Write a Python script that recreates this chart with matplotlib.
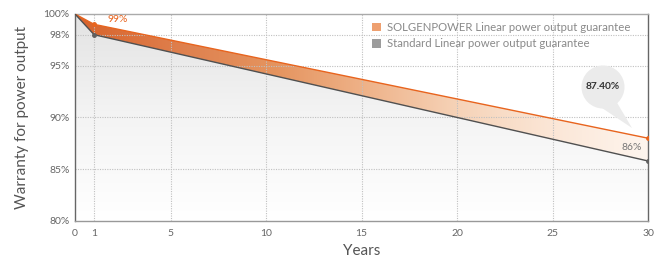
import numpy as np
import matplotlib
matplotlib.use("Agg")
import matplotlib.pyplot as plt
from matplotlib.patches import Polygon, Patch, Ellipse
from matplotlib.colors import LinearSegmentedColormap

plt.rcParams['font.family'] = ['Lato', 'DejaVu Sans']

years = [0, 1, 30]
solgen = [100, 99, 88.0]
standard = [100, 98, 85.8]
xticks = [0, 1, 5, 10, 15, 20, 25, 30]
yticks = [80, 85, 90, 95, 98, 100]
ytick_labels = ['80%', '85%', '90%', '95%', '98%', '100%']
legend_labels = ['SOLGENPOWER Linear power output guarantee', 'Standard Linear power output guarantee']
label_99 = '99%'
label_86 = '86%'
bubble_text = '87.40%'

W, H = 661, 258
fig = plt.figure(figsize=(W/100, H/100), dpi=100)
L, R, T, B = 75, 648, 14, 221
ax = fig.add_axes([L/W, 1-B/H, (R-L)/W, (B-T)/H])
xmin, xmax, ymin, ymax = 0, 30, 80, 100
ax.set_xlim(xmin, xmax)
ax.set_ylim(ymin, ymax)

def px2data(px, py):
    return (xmin + (px - L) / (R - L) * (xmax - xmin),
            ymax - (py - T) / (B - T) * (ymax - ymin))

# gray gradient below standard line
gray_cmap = LinearSegmentedColormap.from_list('g', ['#ffffff', '#f4f4f4', '#e3e3e3'])
grad_v = np.linspace(0, 1, 256).reshape(-1, 1)
im = ax.imshow(grad_v, extent=[xmin, xmax, ymin, ymax], origin='lower', cmap=gray_cmap,
               aspect='auto', zorder=1)
poly_g = Polygon(list(zip(years, standard)) + [(xmax, ymin), (xmin, ymin)], closed=True,
                 transform=ax.transData, facecolor='none', edgecolor='none')
ax.add_patch(poly_g)
im.set_clip_path(poly_g)

# orange gradient between lines
or_cmap = LinearSegmentedColormap.from_list('o', [(0, '#d8622a'), (0.2, '#df8250'), (0.35, '#e5945f'),
                                                  (0.5, '#eeb187'), (0.67, '#f6d3b8'),
                                                  (0.83, '#fbe6d6'), (1, '#fef5ee')])
grad_h = np.linspace(0, 1, 256).reshape(1, -1)
im2 = ax.imshow(grad_h, extent=[xmin, xmax, ymin, ymax], origin='lower', cmap=or_cmap,
                aspect='auto', zorder=1.5)
poly_o = Polygon(list(zip(years, solgen)) + list(zip(years[::-1], standard[::-1])), closed=True,
                 transform=ax.transData, facecolor='none', edgecolor='none')
ax.add_patch(poly_o)
im2.set_clip_path(poly_o)

# grid
for x in xticks[1:-1]:
    ax.axvline(x, color='#c0c0c0', lw=0.8, ls=(0, (1, 1.2)), zorder=2)
for y in yticks[1:-1]:
    ax.axhline(y, color='#c0c0c0', lw=0.8, ls=(0, (1, 1.2)), zorder=2)

ax.plot(years, solgen, color='#e8641e', lw=1.0, zorder=3)
ax.plot(years, standard, color='#505050', lw=1.0, zorder=3)
ax.plot(years[1:], solgen[1:], 'o', color='#e8641e', ms=2.5, zorder=4)
ax.plot(years[1:], standard[1:], 'o', color='#606060', ms=2.5, zorder=4)

ax.set_xticks(xticks)
ax.set_yticks(yticks)
ax.set_yticklabels(ytick_labels)
ax.tick_params(length=0, labelsize=7.5, colors='#666666', pad=4)
ax.tick_params(axis='x', pad=6)
for s, c in [('left', '#666666'), ('bottom', '#999999'), ('right', '#666666'), ('top', '#aaaaaa')]:
    ax.spines[s].set_color(c)
    ax.spines[s].set_linewidth(1.0)

ax.set_ylabel('Warranty for power output', fontsize=11, color='#555555', labelpad=10)
ax.set_xlabel('Years', fontsize=11, color='#555555', labelpad=4)

x99, y99 = px2data(107, 20)
ax.text(x99, y99, label_99, color='#e8641e', fontsize=7.5, va='center', ha='left', zorder=5)
x86, y86 = px2data(642, 148)
ax.text(x86, y86, label_86, color='#777777', fontsize=7.5, va='center', ha='right', zorder=5)

# speech bubble
cx, cy = px2data(603, 87)
rx = 21.5 / (R - L) * (xmax - xmin)
ry = 21.5 / (B - T) * (ymax - ymin)
ax.add_patch(Ellipse((cx, cy), 2*rx, 2*ry, facecolor='#ebebeb', edgecolor='none', zorder=6))
tail = [px2data(599, 106), px2data(616, 101), px2data(632, 128)]
ax.add_patch(Polygon(tail, closed=True, facecolor='#ebebeb', edgecolor='none', zorder=6))
ax.text(cx, cy, bubble_text, fontsize=7.3, fontweight='bold', color='#333333',
        ha='center', va='center', zorder=7)

handles = [Patch(facecolor='#eea070', edgecolor='none'), Patch(facecolor='#9c9c9c', edgecolor='none')]
leg = ax.legend(handles, legend_labels, loc='upper left', bbox_to_anchor=((372 - L)/(R - L), 1 - (22 - T)/(B - T)),
                frameon=False, borderaxespad=0, borderpad=0,
                fontsize=8.2, handlelength=0.8, handleheight=0.8, handletextpad=0.5, labelspacing=0.45,
                labelcolor='#8a8a8a')
leg.set_zorder(7)

fig.savefig('out.png', dpi=100)
